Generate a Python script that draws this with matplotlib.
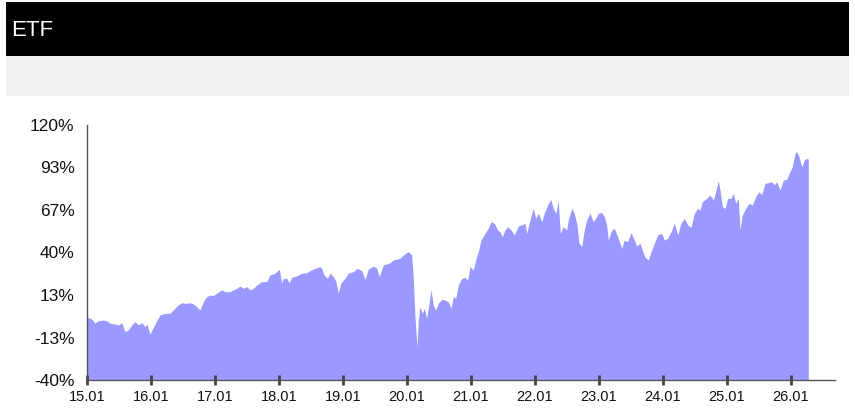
import matplotlib
matplotlib.use("Agg")
import matplotlib.pyplot as plt
from matplotlib.patches import Rectangle
from matplotlib import font_manager

# ---- data (decimal year, cumulative return %) ----
years = [
    2015.000, 2015.073, 2015.125, 2015.177, 2015.255, 2015.308, 2015.359, 2015.438,
    2015.489, 2015.542, 2015.594, 2015.645, 2015.698, 2015.750, 2015.802, 2015.855,
    2015.906, 2015.933, 2015.984, 2016.036, 2016.089, 2016.141, 2016.219, 2016.297,
    2016.323, 2016.375, 2016.427, 2016.480, 2016.531, 2016.609, 2016.661, 2016.714,
    2016.766, 2016.817, 2016.870, 2016.922, 2016.973, 2017.027, 2017.105, 2017.156,
    2017.234, 2017.286, 2017.339, 2017.391, 2017.442, 2017.495, 2017.547, 2017.598,
    2017.652, 2017.730, 2017.808, 2017.859, 2017.938, 2018.005, 2018.042, 2018.067,
    2018.120, 2018.161, 2018.198, 2018.277, 2018.355, 2018.433, 2018.484, 2018.563,
    2018.641, 2018.667, 2018.703, 2018.755, 2018.797, 2018.848, 2018.891, 2018.927,
    2018.964, 2019.031, 2019.083, 2019.161, 2019.223, 2019.292, 2019.344, 2019.395,
    2019.473, 2019.527, 2019.567, 2019.630, 2019.683, 2019.734, 2019.786, 2019.891,
    2019.942, 2019.995, 2020.020, 2020.073, 2020.098, 2020.125, 2020.156, 2020.177,
    2020.203, 2020.239, 2020.270, 2020.308, 2020.344, 2020.375, 2020.411, 2020.448,
    2020.489, 2020.542, 2020.594, 2020.645, 2020.688, 2020.723, 2020.761, 2020.802,
    2020.855, 2020.906, 2020.948, 2020.984, 2021.036, 2021.073, 2021.114, 2021.156,
    2021.219, 2021.270, 2021.313, 2021.364, 2021.417, 2021.453, 2021.489, 2021.531,
    2021.573, 2021.625, 2021.677, 2021.739, 2021.792, 2021.844, 2021.870, 2021.922,
    2021.973, 2022.011, 2022.052, 2022.105, 2022.145, 2022.198, 2022.245, 2022.286,
    2022.323, 2022.364, 2022.395, 2022.442, 2022.495, 2022.520, 2022.573, 2022.614,
    2022.652, 2022.688, 2022.730, 2022.770, 2022.808, 2022.859, 2022.911, 2022.964,
    2022.989, 2023.042, 2023.083, 2023.120, 2023.145, 2023.198, 2023.239, 2023.292,
    2023.355, 2023.395, 2023.448, 2023.500, 2023.552, 2023.589, 2023.641, 2023.677,
    2023.719, 2023.770, 2023.813, 2023.864, 2023.917, 2023.980, 2024.020, 2024.073,
    2024.125, 2024.177, 2024.230, 2024.281, 2024.333, 2024.386, 2024.438, 2024.489,
    2024.542, 2024.578, 2024.614, 2024.683, 2024.734, 2024.786, 2024.823, 2024.864,
    2024.891, 2024.927, 2024.969, 2025.011, 2025.063, 2025.098, 2025.136, 2025.177,
    2025.203, 2025.239, 2025.292, 2025.344, 2025.395, 2025.448, 2025.500, 2025.542,
    2025.594, 2025.645, 2025.698, 2025.739, 2025.777, 2025.828, 2025.880, 2025.933,
    2025.984, 2026.020, 2026.063, 2026.089, 2026.125, 2026.167, 2026.208, 2026.245,
    2026.270,
]
returns = [
    -0.6, -1.7, -4.4, -2.8, -2.4, -2.8, -4.4, -4.9,
    -5.5, -4.0, -9.7, -8.6, -5.5, -3.4, -5.5, -4.0,
    -6.6, -4.9, -11.1, -7.0, -2.8, 0.8, 1.8, 1.8,
    2.9, 5.0, 7.1, 8.5, 8.1, 8.5, 7.7, 6.0,
    3.9, 9.1, 12.3, 13.3, 13.0, 14.4, 16.5, 15.4,
    15.4, 16.5, 17.5, 19.0, 17.5, 18.6, 16.5, 17.5,
    19.6, 21.7, 21.7, 25.9, 27.0, 29.5, 20.7, 23.8,
    23.8, 21.0, 24.4, 25.3, 27.0, 27.3, 28.6, 30.1,
    31.1, 30.1, 25.9, 23.8, 27.0, 24.9, 21.7, 14.4,
    20.7, 23.8, 27.0, 28.0, 30.1, 28.6, 23.2, 29.5,
    31.5, 30.1, 24.9, 32.2, 32.8, 33.6, 35.3, 36.4,
    38.4, 39.9, 40.5, 38.4, 23.8, -0.3, -19.1, -2.4,
    6.0, 1.8, 5.0, -1.3, 8.1, 16.5, 7.1, 3.9,
    8.1, 10.6, 10.2, 9.1, 5.0, 12.3, 11.3, 19.6,
    23.8, 24.4, 22.8, 31.1, 29.0, 35.3, 40.5, 47.8,
    52.0, 55.2, 59.3, 58.3, 54.1, 53.0, 49.9, 54.1,
    56.2, 54.1, 51.0, 56.6, 57.3, 58.3, 52.0, 60.4,
    67.7, 61.5, 64.6, 59.3, 64.6, 69.8, 73.4, 67.7,
    64.6, 72.0, 52.0, 56.2, 54.1, 60.4, 67.7, 64.6,
    58.3, 45.8, 43.7, 54.1, 60.4, 64.6, 59.3, 62.5,
    64.6, 65.0, 62.5, 57.3, 47.8, 54.1, 55.2, 49.9,
    42.6, 47.8, 46.8, 52.5, 47.8, 44.1, 45.8, 41.6,
    37.0, 35.3, 40.5, 45.8, 51.0, 52.0, 47.8, 48.9,
    53.0, 58.3, 51.0, 58.3, 61.5, 57.3, 55.8, 64.6,
    67.7, 66.6, 71.9, 74.0, 76.1, 73.0, 78.2, 85.1,
    79.2, 68.7, 67.7, 74.0, 74.0, 77.1, 70.9, 74.0,
    54.1, 63.5, 67.7, 70.9, 69.8, 75.0, 78.2, 76.1,
    83.4, 83.8, 84.4, 82.4, 84.4, 79.2, 85.5, 85.9,
    90.7, 93.8, 102.3, 103.3, 100.1, 93.8, 98.0, 99.1,
    98.6,
]
title = "ETF"
y_ticks = [-40, -40 + 80 / 3, -40 + 160 / 3, 40, 40 + 80 / 3, 40 + 160 / 3, 120]
y_labels = ["-40%", "-13%", "13%", "40%", "67%", "93%", "120%"]
x_ticks = list(range(2015, 2027))
x_labels = ["15.01", "16.01", "17.01", "18.01", "19.01", "20.01",
            "21.01", "22.01", "23.01", "24.01", "25.01", "26.01"]

plt.rcParams['font.family'] = ['Liberation Sans', 'DejaVu Sans']


def pick_font(cands, default):
    for c in cands:
        try:
            path = font_manager.findfont(
                font_manager.FontProperties(family=c, weight="normal"),
                fallback_to_default=False)
            if "bold" in path.lower():
                continue
            return c
        except Exception:
            pass
    return default


title_font = pick_font(['Liberation Sans Narrow', 'DejaVu Sans Condensed'],
                       'Liberation Sans')
title_size = 18 if title_font != 'Liberation Sans' else 16

W, H = 855, 409
fig = plt.figure(figsize=(W / 100, H / 100), dpi=100)
fig.patch.set_facecolor("white")

# header bars
fig.patches.append(Rectangle((6 / W, 1 - 56 / H), (849 - 6) / W, 54 / H,
                             transform=fig.transFigure, facecolor="black",
                             edgecolor="none", zorder=0))
fig.patches.append(Rectangle((6 / W, 1 - 96 / H), (849 - 6) / W, 40 / H,
                             transform=fig.transFigure, facecolor="#f0f0f0",
                             edgecolor="none", zorder=0))
fig.text(11 / W, 1 - 31 / H, title, color="white", fontsize=title_size,
         fontweight="normal", family=[title_font, 'DejaVu Sans'],
         ha="left", va="center")

ax = fig.add_axes([87 / W, (H - 380) / H, (835 - 87) / W, 255 / H])
ax.fill_between(years, returns, -40, color="#9999ff", linewidth=0)
ax.set_xlim(2015, 2015 + 748 / 64)
ax.set_ylim(-40, 120)

for s in ["top", "right"]:
    ax.spines[s].set_visible(False)
for s in ["left", "bottom"]:
    ax.spines[s].set_color("#555555")
    ax.spines[s].set_linewidth(1)

ax.set_yticks(y_ticks)
ax.set_yticklabels(y_labels)
ax.set_xticks(x_ticks)
ax.set_xticklabels(x_labels)
ax.tick_params(axis="y", length=0, pad=9, labelsize=12.5, labelcolor="#111111")
ax.tick_params(axis="x", length=7, width=2, direction="inout", color="#444444",
               pad=4, labelsize=10.5, labelcolor="#111111")

fig.savefig("out.png", dpi=100)
